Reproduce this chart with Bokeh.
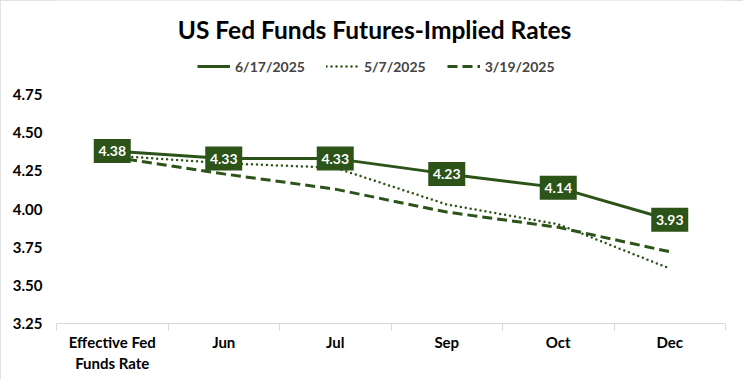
from bokeh.plotting import figure
from bokeh.models import (Range1d, FixedTicker, Legend, LegendItem, LinearAxis, Label,
                          NumeralTickFormatter, InlineStyleSheet)
from bokeh.core.properties import value
from bokeh.embed import file_html
from bokeh.resources import INLINE

# ---- data ----
categories = ["Effective Fed Funds Rate", "Jun", "Jul", "Sep", "Oct", "Dec"]
cat_line1 = ["Effective Fed", "Jun", "Jul", "Sep", "Oct", "Dec"]
cat_line2 = ["Funds Rate", "", "", "", "", ""]
series_names = ["6/17/2025", "5/7/2025", "3/19/2025"]
rates_0617 = [4.38, 4.33, 4.33, 4.23, 4.14, 3.93]
rates_0507 = [4.35, 4.30, 4.27, 4.03, 3.90, 3.61]
rates_0319 = [4.34, 4.23, 4.13, 3.98, 3.88, 3.72]
y_ticks = [3.25, 3.50, 3.75, 4.00, 4.25, 4.50, 4.75]
title_text = "US Fed Funds Futures-Implied Rates"

# ---- style / layout ----
GREEN = "#2C5318"
AXIS_GREY = "#D9D9D9"
FONT = "Lato"
W, H = 743, 379
LEFT, RIGHT, BOTTOM = 56, 18, 56
FRAME_TOP_PX = 94          # screen row where 4.75 sits (frame extends above it)
FH = H - BOTTOM            # frame height (frame starts at the very top)
FW = W - LEFT - RIGHT
Y0, Y1 = 3.25, 4.75
px_per_unit = (FH - FRAME_TOP_PX) / (Y1 - Y0)
Y_TOP = Y0 + FH / px_per_unit
n = len(categories)
xpos = [i + 0.5 for i in range(n)]

p = figure(width=W, height=H, output_backend="svg", toolbar_location=None,
           x_range=Range1d(0, n), y_range=Range1d(Y0, Y_TOP),
           min_border_left=LEFT, min_border_right=RIGHT,
           min_border_top=0, min_border_bottom=BOTTOM, title_location=None)
p.outline_line_color = None
p.xgrid.visible = False
p.ygrid.visible = False
p.stylesheets = [InlineStyleSheet(css=":host { outline: 1px solid #D9D9D9; outline-offset: -1px; }")]

r1 = p.line(xpos, rates_0617, line_width=3, color=GREEN)
r2 = p.line(xpos, rates_0507, line_width=2.5, color=GREEN, line_dash="0 5", line_cap="round")
r3 = p.line(xpos, rates_0319, line_width=3, color=GREEN, line_dash="10 5")

p.rect(xpos, rates_0617, width=37, height=24, width_units="screen", height_units="screen",
       fill_color=GREEN, line_color=None)
p.text(xpos, rates_0617, text=[f"{v:.2f}" for v in rates_0617], text_color="white",
       text_font=value(FONT), text_font_style="bold", text_font_size="14px",
       text_align="center", text_baseline="middle")

# y axis
ya = p.yaxis[0]
ya.ticker = FixedTicker(ticks=y_ticks)
ya.formatter = NumeralTickFormatter(format="0.00")
ya.axis_line_color = None
ya.major_tick_line_color = None
ya.minor_tick_line_color = None
ya.major_tick_out = 0
ya.major_tick_in = 0
ya.minor_tick_out = 0
ya.major_label_text_font = FONT
ya.major_label_text_font_style = "bold"
ya.major_label_text_font_size = "15px"
ya.major_label_text_color = "black"
ya.major_label_standoff = 14

# x axis (first label line + boundary ticks)
xa = p.xaxis[0]
xa.ticker = FixedTicker(ticks=xpos, minor_ticks=list(range(n + 1)))
xa.major_label_overrides = {x: t for x, t in zip(xpos, cat_line1)}
xa.axis_line_color = AXIS_GREY
xa.major_tick_line_color = None
xa.major_tick_out = 0
xa.major_tick_in = 0
xa.minor_tick_line_color = AXIS_GREY
xa.minor_tick_out = 7
xa.minor_tick_in = 0
xa.major_label_text_font = FONT
xa.major_label_text_font_style = "bold"
xa.major_label_text_font_size = "15px"
xa.major_label_text_color = "black"
xa.major_label_standoff = 2

# second label line
xa2 = LinearAxis(ticker=FixedTicker(ticks=xpos, minor_ticks=[]),
                 major_label_overrides={x: t for x, t in zip(xpos, cat_line2)})
xa2.axis_line_color = None
xa2.major_tick_line_color = None
xa2.minor_tick_line_color = None
xa2.major_tick_out = 0
xa2.minor_tick_out = 0
xa2.major_label_text_font = FONT
xa2.major_label_text_font_style = "bold"
xa2.major_label_text_font_size = "15px"
xa2.major_label_text_color = "black"
xa2.major_label_standoff = 0
p.add_layout(xa2, "below")

# title, centred on the whole figure (row 29, column 374 of the canvas)
title_cx, title_cy = 374, 29
p.add_layout(Label(x=(title_cx - LEFT) / FW * n,
                   y=Y0 + (FH - title_cy) / px_per_unit,
                   text=title_text, text_font=FONT, text_font_style="bold",
                   text_font_size="24.5px", text_color="black",
                   text_align="center", text_baseline="middle"))

# legend inside the (extended) frame, above the data area
legend_left, legend_cy, glyph_h = 197, 66, 20
legend = Legend(items=[LegendItem(label=series_names[0], renderers=[r1]),
                       LegendItem(label=series_names[1], renderers=[r2]),
                       LegendItem(label=series_names[2], renderers=[r3])],
                orientation="horizontal",
                location=(legend_left - LEFT, FH - legend_cy - glyph_h / 2),
                label_text_font=FONT, label_text_font_style="bold",
                label_text_font_size="14px", glyph_width=33, glyph_height=glyph_h,
                label_standoff=5, spacing=21, padding=0, margin=0,
                border_line_color=None, background_fill_alpha=0)
p.add_layout(legend)

open("out.html", "w").write(file_html(p, INLINE))
